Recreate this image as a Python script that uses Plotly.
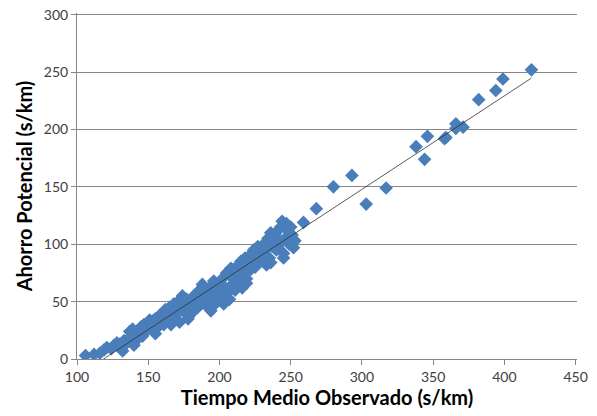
import plotly.graph_objects as go

tiempo = [106,112,116,119,121,124,126,128,130,132,133,135,137,138,139,140,141,143,145,146,
          147,149,150,152,153,155,155,157,158,159,160,161,162,163,165,165,167,168,169,170,
          171,172,173,174,175,176,177,178,179,180,181,182,183,185,186,187,188,189,190,191,
          192,193,194,195,196,197,198,199,200,201,202,203,204,205,206,207,208,208,209,210,
          211,212,213,214,215,216,217,218,219,220,221,222,223,224,225,226,227,228,230,231,
          232,233,234,235,236,237,238,239,240,241,242,243,244,245,246,247,248,249,250,251,
          252,253,245,236,144,151,166,178,184,196,203,211,219,229,
          259,268,280,293,303,317,338,344,346,358,359,366,366,371,382,394,399,419]
ahorro = [3,4,5,8,10,9,12,14,13,7,16,14,24,20,26,12,22,18,28,20,
          30,25,27,30,33,22,35,28,38,32,40,30,43,36,34,45,40,48,38,42,
          50,32,44,55,48,40,52,45,38,50,42,55,47,52,60,48,65,55,58,50,
          45,62,42,55,68,48,60,52,65,55,70,48,62,75,58,52,72,79,65,78,
          60,80,70,66,85,62,75,88,70,82,90,78,86,95,80,92,98,85,90,100,
          95,82,105,88,110,98,102,108,95,112,100,115,120,88,105,118,112,100,115,108,
          97,103,92,84,24,34,30,35,44,50,57,68,66,88,
          119,131,150,160,135,149,185,174,194,192,193,205,201,202,226,234,244,252]

# Linear trend line coefficients
trend_slope = 0.815
trend_intercept = -96.7

x_ticks = [100, 150, 200, 250, 300, 350, 400, 450]
y_ticks = [0, 50, 100, 150, 200, 250, 300]

tx = [min(tiempo), max(tiempo)]
ty = [trend_slope * v + trend_intercept for v in tx]

fig = go.Figure()
fig.add_trace(go.Scatter(
    x=tiempo, y=ahorro, mode="markers",
    marker=dict(symbol="diamond", size=10.5, color="#4A7EBB", line=dict(width=0)),
    showlegend=False, cliponaxis=True, hoverinfo="skip"))
fig.add_trace(go.Scatter(
    x=tx, y=ty, mode="lines",
    line=dict(color="#303030", width=0.8),
    showlegend=False, cliponaxis=True, hoverinfo="skip"))

fig.update_layout(
    width=597, height=416,
    margin=dict(l=77, r=20, t=13, b=57),
    paper_bgcolor="white", plot_bgcolor="white",
    font=dict(family="Lato, Liberation Sans, sans-serif", color="#404040", size=14),
    xaxis=dict(
        range=[100, 451], tickvals=x_ticks, showgrid=False, zeroline=False,
        showline=True, linecolor="#868686", linewidth=1, automargin=False,
        ticks="outside", ticklen=5, tickcolor="#868686",
        title=dict(text="Tiempo Medio Observado (s/km)",
                   font=dict(size=20, color="black", family="Lato, sans-serif", weight="bold"),
                   standoff=6),
    ),
    yaxis=dict(
        range=[0, 301.5], tickvals=y_ticks, showgrid=True, gridcolor="#868686", gridwidth=1,
        zeroline=False, showline=True, linecolor="#868686", linewidth=1, automargin=False,
        ticks="outside", ticklen=5, tickcolor="#868686",
        title=dict(text="Ahorro Potencial (s/km)",
                   font=dict(size=20, color="black", family="Lato, sans-serif", weight="bold"),
                   standoff=5),
    ),
)

# remove the default page margin so the figure fills the window exactly
fig.write_html("out.html", config={"displayModeBar": False},
               post_script="document.body.style.margin='0';document.body.style.overflow='hidden';")
